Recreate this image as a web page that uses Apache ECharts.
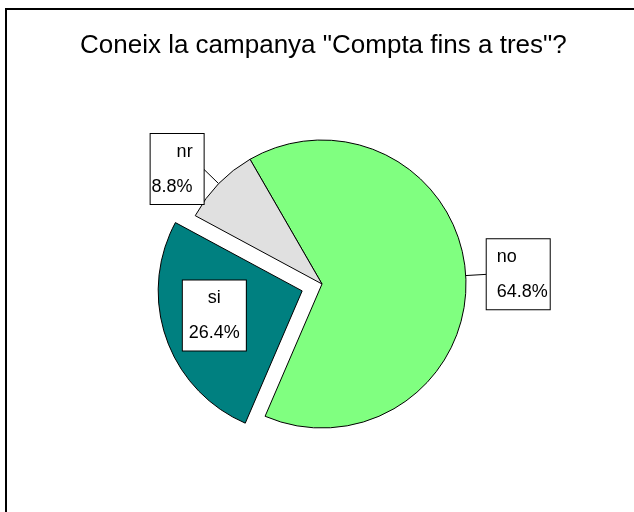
<!DOCTYPE html>
<html>
  <head>
    <meta charset="utf-8">
    <title>Coneix la campanya</title>
    <style>
      html, body { margin: 0; padding: 0; background: #fff; }
      #chart { width: 634px; height: 512px; }
    </style>
  </head>
  <body>
    <div id="chart"></div>
    <script src="https://cdn.jsdelivr.net/npm/echarts@6/dist/echarts.min.js"></script>
    <script>
      // values
      var categories = ['no', 'si', 'nr'];
      var percents = [64.8, 26.4, 8.8];
      var colors = ['#80FF80', '#008080', '#E0E0E0'];

      var FONT = '"Liberation Sans", Arial, Helvetica, sans-serif';

      // per-slice label box looks (SPSS style boxes)
      var labelStyles = [
        { position: 'outside', align: 'left', padding: [0, 0, 0, 10], width: 53 },
        { position: 'inside', align: 'center', padding: [0, 0, 0, 0], width: 63 },
        { position: 'outside', align: 'right', padding: [0, 11, 0, 0], width: 42 }
      ];

      var pieData = categories.map(function (name, i) {
        var ls = labelStyles[i];
        return {
          name: name,
          value: percents[i],
          selected: name === 'si',
          itemStyle: { color: colors[i] },
          label: {
            position: ls.position,
            padding: ls.padding,
            width: ls.width,
            height: 70,
            rich: {
              n: { fontSize: 18, fontFamily: FONT, color: '#000', lineHeight: 35, align: ls.align },
              p: { fontSize: 18, fontFamily: FONT, color: '#000', lineHeight: 35, align: ls.align }
            }
          }
        };
      });

      var chart = echarts.init(document.getElementById('chart'));
      chart.setOption({
        animation: false,
        title: {
          text: 'Coneix la campanya "Compta fins a tres"?',
          left: 75,
          top: 28,
          textStyle: { fontFamily: FONT, fontSize: 26, fontWeight: 'normal', color: '#000' }
        },
        graphic: [{
          type: 'rect',
          shape: { x: 6, y: 9, width: 700, height: 600 },
          style: { fill: null, stroke: '#000', lineWidth: 2 },
          silent: true
        }],
        series: [{
          type: 'pie',
          center: [322, 284],
          radius: 144,
          startAngle: 120,
          clockwise: true,
          avoidLabelOverlap: false,
          selectedMode: 'single',
          selectedOffset: 21,
          itemStyle: { borderColor: '#000', borderWidth: 1 },
          emphasis: { disabled: true },
          label: {
            show: true,
            backgroundColor: '#fff',
            borderColor: '#000',
            borderWidth: 1,
            distanceToLabelLine: 0,
            formatter: function (p) {
              return '{n|' + p.name + '}\n{p|' + p.value.toFixed(1) + '%}';
            }
          },
          labelLine: {
            show: true,
            length: 21,
            length2: 0,
            lineStyle: { color: '#000', width: 1 }
          },
          labelLayout: function (params) {
            if (params.dataIndex === 1) {
              return { dx: -17 };
            }
            return {};
          },
          data: pieData
        }]
      });
    </script>
  </body>
</html>
